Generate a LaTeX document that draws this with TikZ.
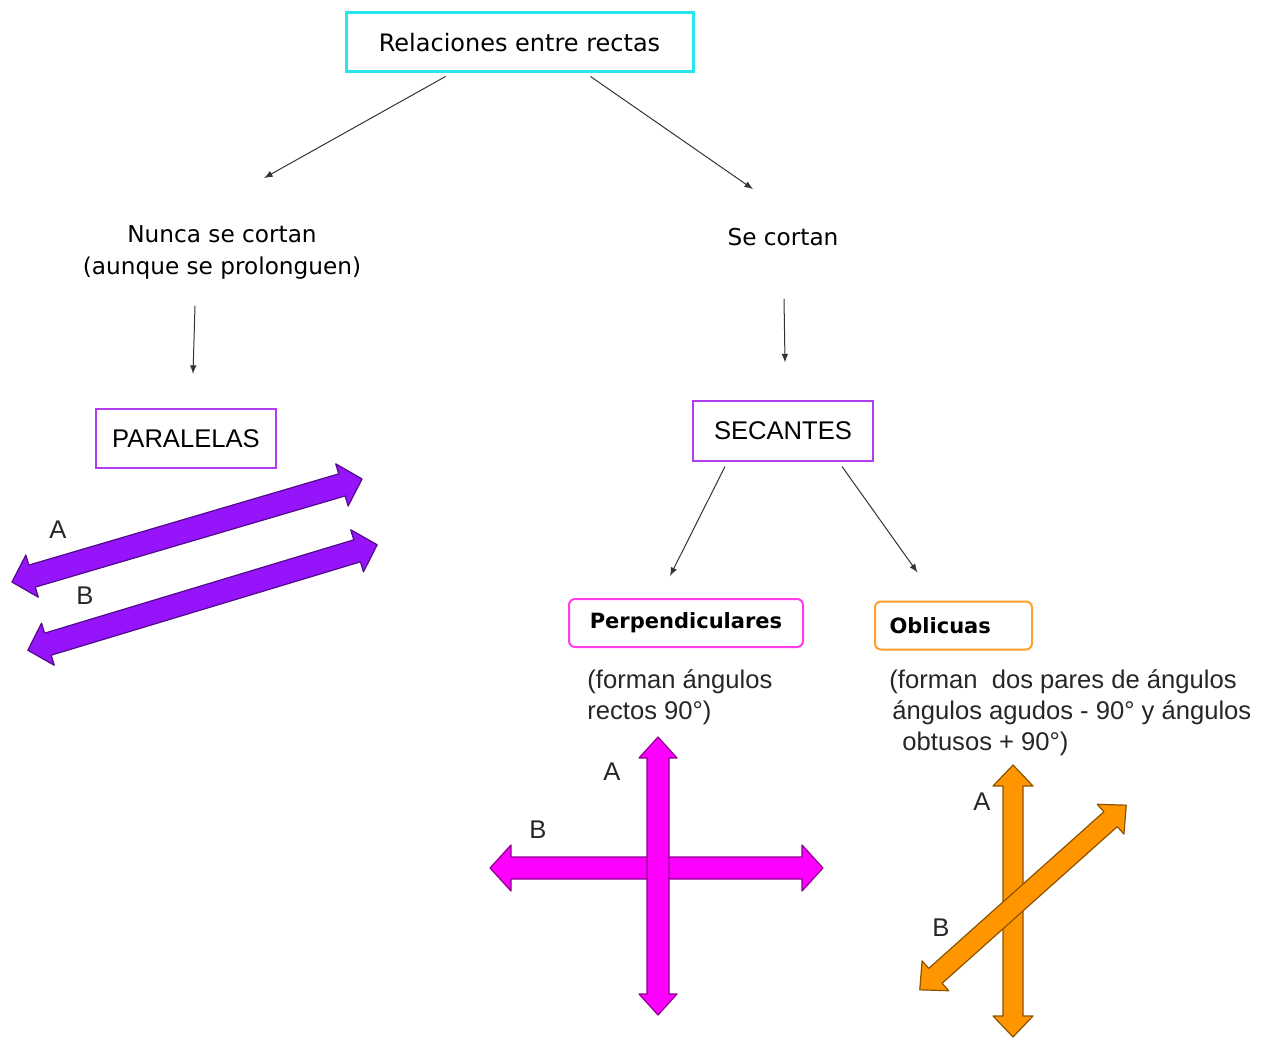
\documentclass[tikz,border=0pt]{standalone}
\usepackage{fontspec}
\setmainfont{Liberation Sans}
\newfontfamily\comicfont{DejaVu Sans}
\usepackage{tikz}
\usetikzlibrary{arrows}
\usepackage{xcolor}

\definecolor{boxcyan}{RGB}{40,230,240}
\definecolor{boxviolet}{RGB}{180,60,240}
\definecolor{lineviolet}{RGB}{150,20,250}
\definecolor{linepink}{RGB}{255,0,255}
\definecolor{boxpink}{RGB}{255,60,240}
\definecolor{lineorange}{RGB}{255,150,0}
\definecolor{boxorange}{RGB}{255,160,40}

\tikzset{
  link/.style={-latex, line width=0.5pt, black!80},
  titlebox/.style={draw=boxcyan, line width=1.5pt, minimum width=173.5pt, minimum height=29.5pt, font=\comicfont\fontsize{12}{14}\selectfont},
  kindbox/.style={draw=boxviolet, line width=1pt, minimum width=90pt, minimum height=29.5pt, font=\fontsize{12.8}{15}\selectfont},
  subbox/.style={rounded corners=3pt, line width=1pt, minimum height=24pt, font=\comicfont\bfseries\fontsize{10.5}{13}\selectfont},
  comictext/.style={align=center, font=\comicfont\fontsize{11.6}{16}\selectfont},
  plaintext/.style={align=left, inner sep=0pt, font=\fontsize{12.8}{15.5}\selectfont, text=black!85},
  letter/.style={inner sep=0pt, font=\fontsize{12.8}{15}\selectfont, text=black!85}
}

% #1 centre, #2 angle, #3 length, #4 shaft half width, #5 head half width, #6 colour
\newcommand{\fatarrow}[6]{%
  \begin{scope}[shift={#1}, rotate=#2]
    \filldraw[fill=#6, draw=#6!55!black, line width=0.6pt, line join=round]
      ({-#3/2},0) -- ({-#3/2+21},#5) -- ({-#3/2+21},#4) -- ({#3/2-21},#4)
      -- ({#3/2-21},#5) -- ({#3/2},0) -- ({#3/2-21},-#5) -- ({#3/2-21},-#4)
      -- ({-#3/2+21},-#4) -- ({-#3/2+21},-#5) -- cycle;
  \end{scope}}

\begin{document}
\begin{tikzpicture}[x=0.5pt, y=-0.5pt]
    \useasboundingbox (0,0) rectangle (1272,1042);

    \node[titlebox] (title) at (519.5,42.5) {Relaciones entre rectas};

    \node[comictext] (nunca) at (222,252) {Nunca se cortan\\(aunque se prolonguen)};
    \node[comictext] (secortan) at (783,237) {Se cortan};

    \node[kindbox] (paralelas) at (186,438.5) {PARALELAS};
    \node[kindbox] (secantes) at (783,431) {SECANTES};

    \node[subbox, draw=boxpink, minimum width=117pt] (perp) at (686,623) {Perpendiculares};
    \node[subbox, draw=boxorange, minimum width=78.5pt, text width=64pt, align=left] (obl) at (953.5,625.5) {Oblicuas};

    \node[plaintext, anchor=west] (perptext) at (587,697.5) {(forman ángulos\\rectos 90°)};
    \node[plaintext, anchor=west] (obltext) at (889,713) {(forman\ \ dos pares de ángulos\\\hspace{1.5pt}ángulos agudos - 90° y ángulos\\\hspace{6.5pt}obtusos + 90°)};

    \draw[link] ([xshift=-37pt,yshift=-1.5pt]title.south) -- ([xshift=21pt,yshift=20pt]nunca.north);
    \draw[link] ([xshift=35.5pt,yshift=-1.5pt]title.south) -- ([xshift=-15pt,yshift=16pt]secortan.north);
    \draw[link] ([xshift=-13.5pt,yshift=-10pt]nunca.south) -- ([xshift=3.5pt,yshift=17pt]paralelas.north);
    \draw[link] ([xshift=0.5pt,yshift=-23pt]secortan.south) -- ([xshift=1pt,yshift=19pt]secantes.north);
    \draw[link] ([xshift=16.5pt,yshift=-2.5pt]secantes.south west) -- ([xshift=-8pt,yshift=11pt]perp.north);
    \draw[link] ([xshift=-16pt,yshift=-2.5pt]secantes.south east) -- ([xshift=-18pt,yshift=14pt]obl.north);

    \fatarrow{(187,530.5)}{16.4}{365}{11.5}{22}{lineviolet}
    \fatarrow{(202.5,597.5)}{16.8}{365}{11.5}{22}{lineviolet}
    \node[letter] (pa) at (58,530) {A};
    \node[letter] (pb) at (85,596) {B};

    \fatarrow{(656.5,868)}{0}{333}{11}{23}{linepink}
    \fatarrow{(658,876)}{90}{278}{11}{19}{linepink}
    \node[letter] (qa) at (612,772) {A};
    \node[letter] (qb) at (538,830) {B};

    \fatarrow{(1013,901)}{90}{272}{10}{20}{lineorange}
    \fatarrow{(1023,897.5)}{41.8}{277}{10}{20}{lineorange}
    \node[letter] (ra) at (982,802) {A};
    \node[letter] (rb) at (941,928) {B};
\end{tikzpicture}
\end{document}
